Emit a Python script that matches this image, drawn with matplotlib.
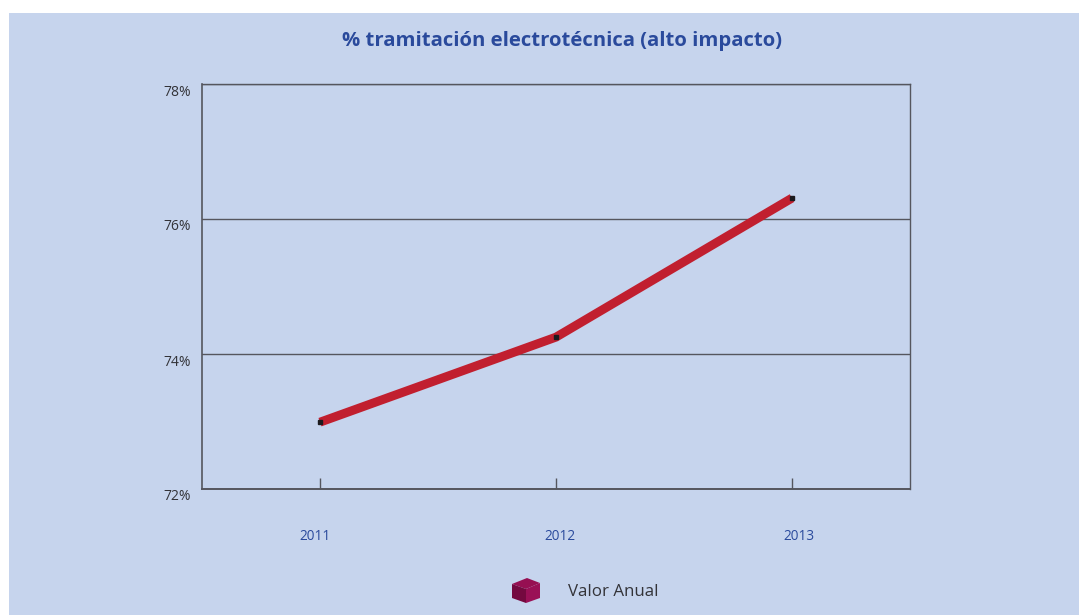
import matplotlib
matplotlib.use("Agg")
import matplotlib.pyplot as plt
from matplotlib.patches import Polygon, Rectangle
from matplotlib.transforms import ScaledTranslation

# Chart data
years = ["2011", "2012", "2013"]
valor_anual = [72.99, 74.25, 76.31]
y_ticks = [72, 74, 76, 78]
y_labels = ["72%", "74%", "76%", "78%"]

W, H = 1079, 615
BG = "#C6D4ED"
BLUE = "#2A4A9C"
DARK = "#333338"
LINE = "#55565E"

plt.rcParams["font.family"] = ["Open Sans", "DejaVu Sans"]

fig = plt.figure(figsize=(W / 100, H / 100), dpi=100, facecolor="white")

# Blue panel behind the chart, white strip on top and left
fig.patches.append(Rectangle((9 / W, 0), (W - 9) / W, (H - 13) / H, transform=fig.transFigure,
                             facecolor=BG, edgecolor="none", zorder=-5))

ax = fig.add_axes([202 / W, 1 - 489 / H, 708 / W, 405 / H])
ax.patch.set_visible(False)

x = list(range(len(years)))
ax.plot(x, valor_anual, color="#C11F2F", linewidth=6.4, solid_capstyle="butt",
        solid_joinstyle="miter", zorder=3)
ax.plot(x, valor_anual, linestyle="none", marker="s", markersize=3.5, color="#1C1A1E", zorder=4)

ax.set_xlim(-0.5, 2.5)
ax.set_ylim(72, 78)
ax.set_yticks(y_ticks)
ax.set_yticklabels(y_labels, fontsize=10, color=DARK)
ax.set_xticks(x)
ax.set_xticklabels(years, fontsize=9.8, color=BLUE)
ax.tick_params(axis="y", length=0, pad=8)
ax.tick_params(axis="x", direction="in", length=8, width=1, color=LINE, pad=0)
ax.grid(axis="y", color=LINE, linewidth=1, zorder=1)

for side in ax.spines.values():
    side.set_color(LINE)
    side.set_linewidth(1)
ax.spines["bottom"].set_linewidth(1.4)
ax.spines["left"].set_linewidth(1.2)

# Labels sit off their ticks in the reference
for lab in ax.get_yticklabels():
    lab.set_transform(lab.get_transform() + ScaledTranslation(0, -6 / 100, fig.dpi_scale_trans))
for lab, shift in zip(ax.get_xticklabels(), [-5, 4, 7]):
    lab.set_transform(lab.get_transform() + ScaledTranslation(shift / 100, -40 / 100, fig.dpi_scale_trans))

fig.text(562.5 / W, 1 - 41 / H, "% tramitación electrotécnica (alto impacto)", fontsize=14.6,
         fontweight="bold", color=BLUE, ha="center", va="center")

# Legend: small cube and label
def px(points):
    return [(a / W, 1 - b / H) for a, b in points]

cube = [
    ([(512, 584), (527, 578), (540, 583), (526, 589)], "#960F52"),
    ([(512, 584), (526, 589), (526, 603), (512, 598)], "#74093F"),
    ([(526, 589), (540, 583), (540, 598), (526, 603)], "#9A1056"),
]
for pts, col in cube:
    fig.patches.append(Polygon(px(pts), closed=True, transform=fig.transFigure, facecolor=col,
                               edgecolor="none"))
fig.text(568 / W, 1 - 592 / H, "Valor Anual", fontsize=12.2, color=DARK, ha="left", va="center")

fig.savefig("out.png", dpi=100, facecolor="white")
